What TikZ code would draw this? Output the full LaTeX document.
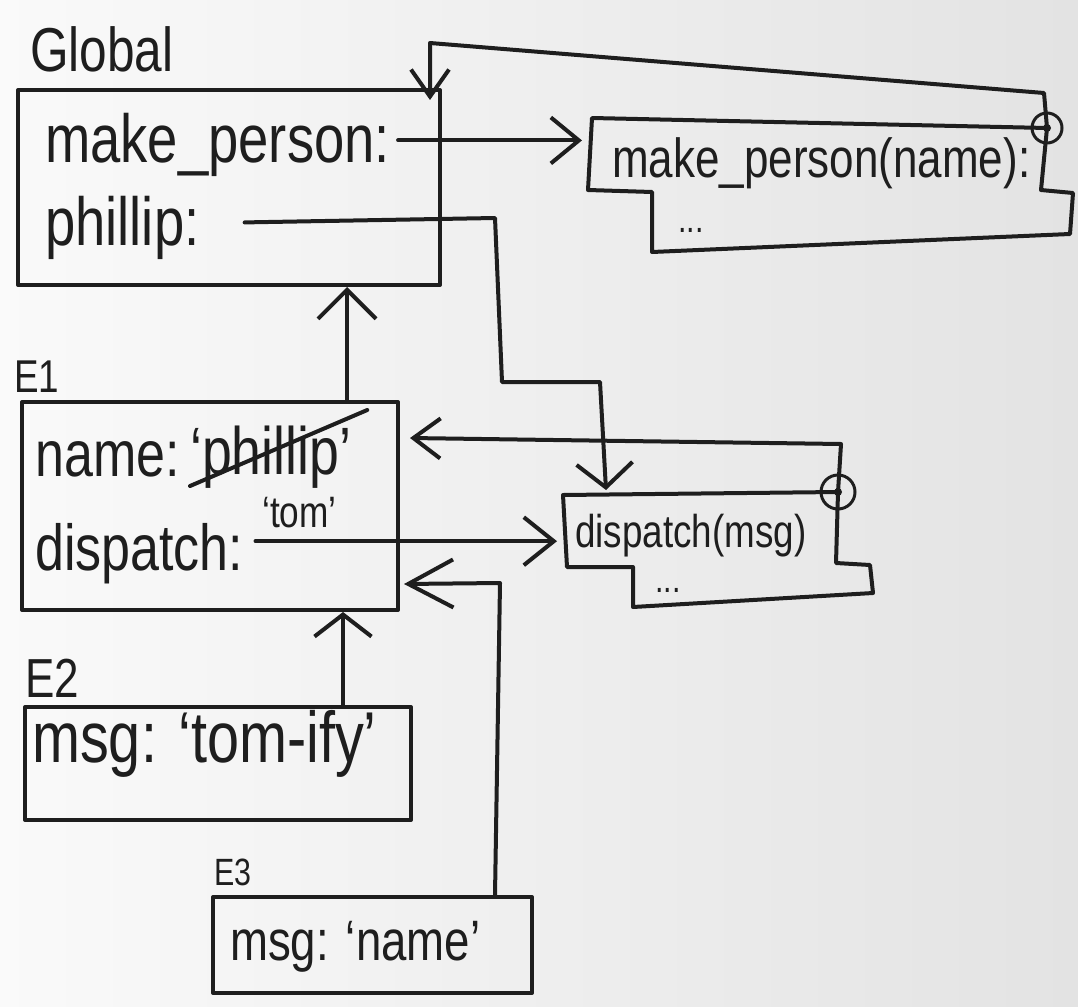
\documentclass[tikz,border=0pt]{standalone}
\usepackage{fontspec}
\setmainfont{Liberation Sans}[FakeStretch=0.8]
\usetikzlibrary{arrows.meta,fit,calc}
\definecolor{inkc}{HTML}{1E1E1E}
\begin{document}
\begin{tikzpicture}[x=1pt,y=-1pt,
  ink/.style={draw=inkc, line width=4pt, line join=round, line cap=round},
  box/.style={ink, inner sep=0pt},
  lbl/.style={anchor=base west, inner sep=0pt, text=inkc},
  vee/.style 2 args={-{Straight Barb[length=#1,width=#2]}},
  ring/.style={circle, draw=inkc, line width=3pt, inner sep=0pt, minimum size=#1},
]
\useasboundingbox (0,0) rectangle (1078,1006);
\fill[left color=black!2, right color=black!11] (0,0) rectangle (1078,1006);

% ---------- Global frame ----------
\node[lbl, font=\fontsize{62}{64}\selectfont] (glabel) at (30,72) {Global};
\node[box, fit={(18,90)(440,285)}] (global) {};
\node[lbl, font=\fontsize{68}{70}\selectfont] (mp) at (45,162) {make\_person:};
\node[lbl, font=\fontsize{68}{70}\selectfont] (ph) at (45,245) {phillip:};

% ---------- function make_person ----------
\node[lbl, font=\fontsize{55}{58}\selectfont] (f1t) at (612,177) {make\_person(name):};
\node[lbl, font=\fontsize{38}{40}\selectfont] (f1d) at (678,232) {...};
\node[ring=30pt] (c1) at (1047,128) {};
\fill[inkc] (c1.center) circle (4pt);
\draw[ink] (c1.center) -- (592,118) -- (588,190) -- (652,192) -- (652,252)
  -- (1070,234) -- (1073,193) -- (1041,190) -- (c1.center);
\coordinate (f1w) at (582,142);

% ---------- function dispatch ----------
\node[lbl, font=\fontsize{46}{50}\selectfont] (f2t) at (575,547) {dispatch(msg)};
\node[lbl, font=\fontsize{38}{40}\selectfont] (f2d) at (655,592) {...};
\node[ring=34pt] (c2) at (838,492) {};
\fill[inkc] (c2.center) circle (4pt);
\draw[ink] (c2.center) -- (563,495) -- (567,567) -- (633,567) -- (633,607)
  -- (873,593) -- (870,565) -- (836,563) -- (c2.center);
\coordinate (f2w) at (557,542);
\coordinate (f2n) at (606,490);

% ---------- E1 ----------
\node[lbl, font=\fontsize{46}{50}\selectfont] (e1label) at (14,392) {E1};
\node[box, fit={(22,402)(398,610)}] (e1) {};
\node[lbl, font=\fontsize{65}{68}\selectfont] (nm) at (35,476) {name:};
\node[lbl, font=\fontsize{67}{70}\selectfont] (phv) at (190,474) {‘phillip’};
\draw[ink] ($(phv.base west)+(0,12)$) -- ($(phv.base east)+(16,-64)$);
\node[lbl, font=\fontsize{44}{48}\selectfont] (tomv) at (262,527) {‘tom’};
\node[lbl, font=\fontsize{65}{68}\selectfont] (dsp) at (35,570) {dispatch:};

% ---------- E2 ----------
\node[lbl, font=\fontsize{55}{58}\selectfont] (e2label) at (25,697) {E2};
\node[box, fit={(25,707)(411,820)}] (e2) {};
\node[lbl, font=\fontsize{72}{75}\selectfont] (msg2) at (32,762) {msg: ‘tom-ify’};

% ---------- E3 ----------
\node[lbl, font=\fontsize{38}{40}\selectfont] (e3label) at (214,885) {E3};
\node[box, fit={(213,897)(532,993)}] (e3) {};
\node[lbl, font=\fontsize{57}{60}\selectfont] (msg3) at (230,960) {msg: ‘name’};

% ---------- connectors ----------
\coordinate (colA) at (347,0);
\coordinate (colB) at (343,0);
\coordinate (colC) at (495,0);

\draw[ink, vee={28pt}{46pt}] ([xshift=8pt,yshift=4pt]mp.east) -- ([yshift=4pt]mp.east -| f1w);
\draw[ink, vee={27pt}{38pt}] (c1.center) -- ++(-3,-35) -- (430,43)
  -- ($(global.north east)+(-12,12)$);
\draw[ink, vee={24pt}{56pt}] ([xshift=45pt,yshift=5pt]ph.east) -- (495,218) -- (502,382)
  -- (600,382) -- (f2n);
\draw[ink, vee={29pt}{58pt}] (colA |- e1.north) -- (colA |- global.south);
\draw[ink, vee={30pt}{48pt}] ([xshift=12pt,yshift=12pt]dsp.east) -- ([yshift=12pt]dsp.east -| f2w);
\draw[ink, vee={27pt}{40pt}] (c2.center) -- ++(3,-48) -- ($(e1.north east)+(10,38)$);
\draw[ink, vee={22pt}{57pt}] (colB |- e2.north) -- (colB |- e1.south);
\draw[ink, vee={45pt}{48pt}] (colC |- e3.north) -- (500,583) -- ($(e1.south east)+(4,-28)$);
\end{tikzpicture}
\end{document}
